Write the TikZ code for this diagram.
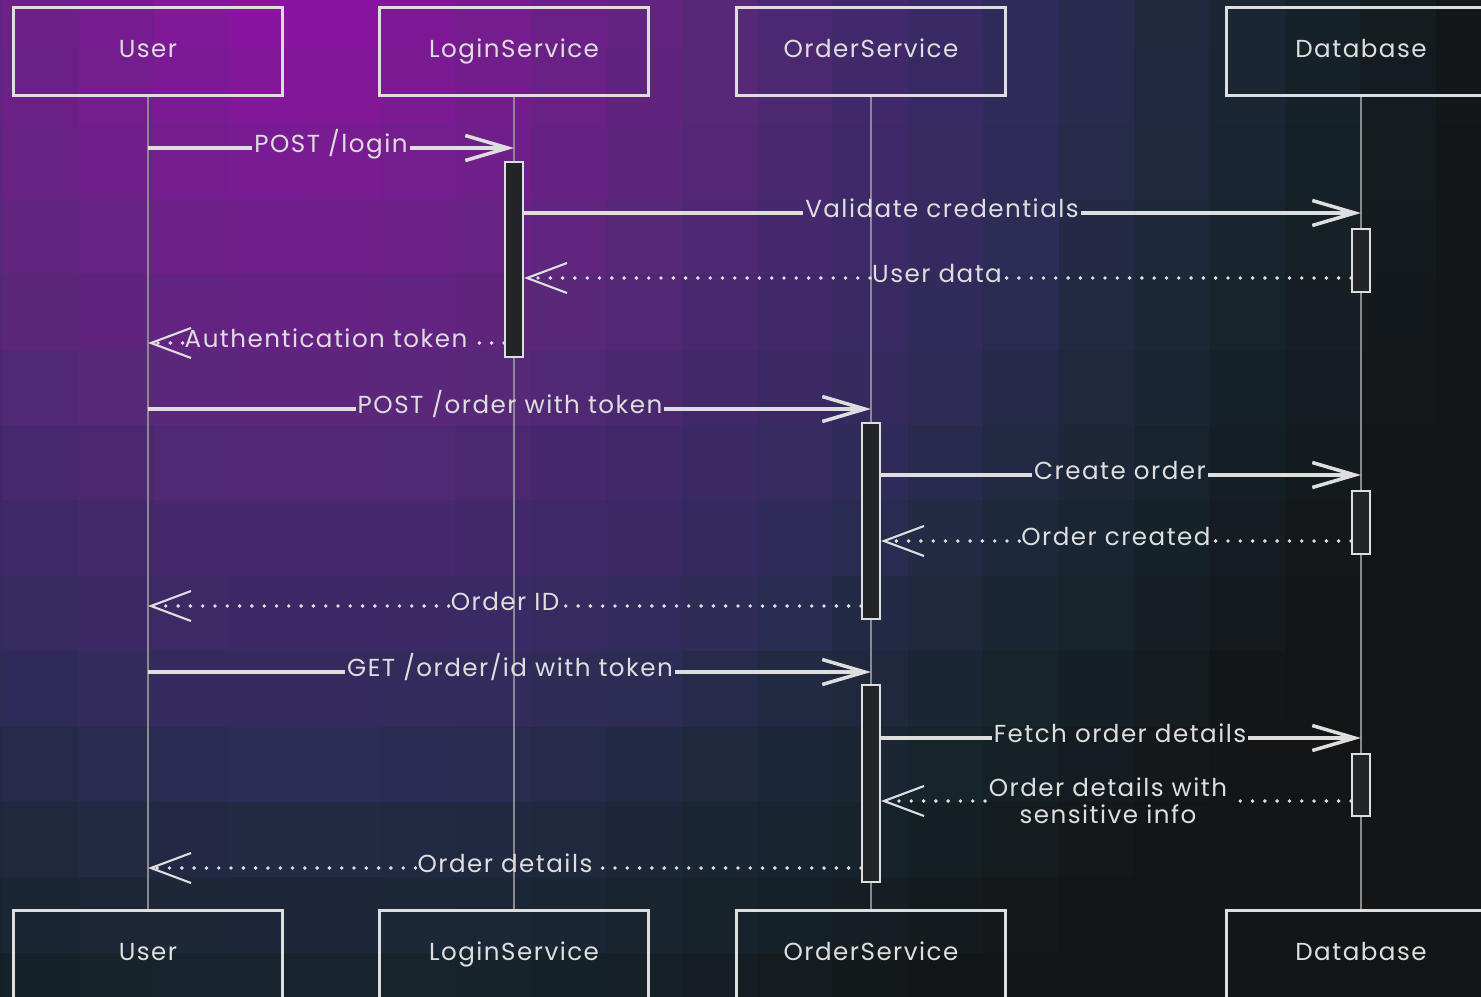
\documentclass[tikz,border=0pt]{standalone}
\usepackage{fontspec}
\setmainfont[LetterSpace=6]{Poppins}
\usetikzlibrary{arrows.meta}
\definecolor{ink}{HTML}{DEDEDE}
\definecolor{lifeline}{HTML}{8A8A8A}
\definecolor{barfill}{HTML}{232428}

\begin{document}
\begin{tikzpicture}[x=0.02cm, y=-0.02cm,
    every node/.style={font=\fontsize{14}{15.5}\selectfont, text=ink},
    declare function={ramp(\d,\a,\b)=min(max((\d-\a)/(\b-\a),0),1);},
    actor/.style={draw=ink, line width=1.7pt, minimum width=5.38cm,
      minimum height=1.78cm, text height=1.6ex, text depth=0.4ex},
    actbar/.style={draw=ink, fill=barfill, line width=1.2pt, inner sep=0pt,
      minimum width=0.36cm},
    lbl/.style={inner sep=1pt, text height=1.6ex, text depth=0.6ex},
    msg/.style={draw=ink, line width=2pt,
      -{Straight Barb[length=0.85cm, width=0.5cm]}},
    reply/.style={draw=ink, line width=2.2pt, line cap=round,
      dash pattern=on 0pt off 7pt,
      -{Straight Barb[length=0.8cm, width=0.6cm, line width=1.2pt]}}]
    \clip (0,0) rectangle (1481,997);
    % background cells
    \foreach \i in {-1,...,19}{
      \foreach \j in {-1,...,12}{
        \pgfmathsetmacro\dd{100*veclen((3+75.4*\i+37.7-300)/100,(48+75.4*\j+37.7)/100)}
        \pgfmathsetmacro\cellr{(142-54*ramp(\dd,0,420)-26*ramp(\dd,420,600)-17*ramp(\dd,600,760)-9*ramp(\dd,760,830)-14*ramp(\dd,830,1000)-3*ramp(\dd,1000,1200))/255}
        \pgfmathsetmacro\cellg{(18+22*ramp(\dd,0,420)+4*ramp(\dd,600,760)-2*ramp(\dd,760,830)-6*ramp(\dd,830,1000)-15*ramp(\dd,1000,1200))/255}
        \pgfmathsetmacro\cellb{(162-42*ramp(\dd,0,420)-15*ramp(\dd,420,600)-19*ramp(\dd,600,760)-16*ramp(\dd,760,830)-26*ramp(\dd,830,1000)-22*ramp(\dd,1000,1200))/255}
        \definecolor{cellcol}{rgb}{\cellr,\cellg,\cellb}
        \fill[cellcol] (3+75.4*\i,48+75.4*\j) rectangle ++(75.4,75.4);
      }
    }

    % participants
    \node[actor] (user) at (148,51.5) {User};
    \node[actor] (login) at (514,51.5) {LoginService};
    \node[actor] (order) at (871,51.5) {OrderService};
    \node[actor] (db) at (1361,51.5) {Database};
    \node[actor] (userb) at (148,954.5) {User};
    \node[actor] (loginb) at (514,954.5) {LoginService};
    \node[actor] (orderb) at (871,954.5) {OrderService};
    \node[actor] (dbb) at (1361,954.5) {Database};
    \draw[lifeline, line width=0.9pt] (user.south) -- (userb.north);
    \draw[lifeline, line width=0.9pt] (login.south) -- (loginb.north);
    \draw[lifeline, line width=0.9pt] (order.south) -- (orderb.north);
    \draw[lifeline, line width=0.9pt] (db.south) -- (dbb.north);

    % activations
    \node[actbar, minimum height=3.9cm] (lact) at (514,259.5) {};
    \node[actbar, minimum height=1.26cm] (dact1) at (1361,260.5) {};
    \node[actbar, minimum height=3.92cm] (oact1) at (871,521) {};
    \node[actbar, minimum height=1.26cm] (dact2) at (1361,522.5) {};
    \node[actbar, minimum height=3.94cm] (oact2) at (871,783.5) {};
    \node[actbar, minimum height=1.24cm] (dact3) at (1361,785) {};

    % messages
    \node[lbl] (m1) at (331,148) {POST /login};
    \node[lbl] (m2) at (942,213) {Validate credentials};
    \node[lbl] (m3) at (937,278) {User data};
    \node[lbl] (m4) at (326,343) {Authentication token};
    \node[lbl] (m5) at (510,409) {POST /order with token};
    \node[lbl] (m6) at (1120,475) {Create order};
    \node[lbl] (m7) at (1116,541) {Order created};
    \node[lbl] (m8) at (505,606) {Order ID};
    \node[lbl] (m9) at (510,672) {GET /order/id with token};
    \node[lbl] (m10) at (1120,738) {Fetch order details};
    \node[inner sep=2pt, align=center] (m11) at (1108,801)
      {Order details with\\sensitive info};
    \node[lbl] (m12) at (505,868) {Order details};
    \draw[msg] (user |- m1) -- (m1) -- (login |- m1);
    \draw[msg] (lact.east |- m2) -- (m2) -- (db |- m2);
    \draw[reply] (dact1.west |- m3) -- (m3) -- (lact.east |- m3);
    \draw[reply] (lact.west |- m4) -- (m4) -- (user |- m4);
    \draw[msg] (user |- m5) -- (m5) -- (order |- m5);
    \draw[msg] (oact1.east |- m6) -- (m6) -- (db |- m6);
    \draw[reply] (dact2.west |- m7) -- (m7) -- (oact1.east |- m7);
    \draw[reply] (oact1.west |- m8) -- (m8) -- (user |- m8);
    \draw[msg] (user |- m9) -- (m9) -- (order |- m9);
    \draw[msg] (oact2.east |- m10) -- (m10) -- (db |- m10);
    \draw[reply] (dact3.west |- m11) -- (m11) -- (oact2.east |- m11);
    \draw[reply] (oact2.west |- m12) -- (m12) -- (user |- m12);
  \end{tikzpicture}
\end{document}
